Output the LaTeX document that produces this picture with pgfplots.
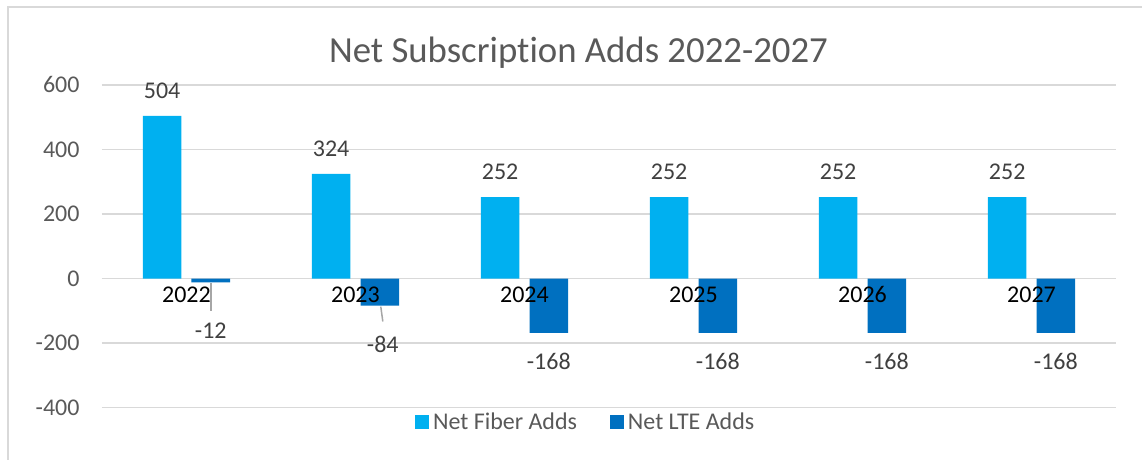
\documentclass[border=0pt]{standalone}
\usepackage{pgfplots}
\pgfplotsset{compat=1.18}
\usepackage{fontspec}
\setmainfont{Carlito}[Ligatures=NoCommon]
\definecolor{fiber}{HTML}{00B0F0}
\definecolor{lte}{HTML}{0070C0}
\definecolor{gridc}{HTML}{D9D9D9}
\definecolor{txt}{HTML}{595959}
\definecolor{lbl}{HTML}{404040}
\definecolor{leader}{HTML}{A6A6A6}
\newcommand{\lf}{\fontsize{12bp}{14bp}\selectfont}
\begin{document}
\begin{tikzpicture}
\fill[white] (0,0) rectangle (571.5bp,230bp);
\draw[gridc, line width=1bp] (4bp,0) -- (4bp,226.5bp) -- (571.5bp,226.5bp);
\node[anchor=base, text=txt, font=\fontsize{18.4bp}{22bp}\selectfont, inner sep=0] at (289.5bp,198.5bp) {Net Subscription Adds 2022-2027};
\begin{axis}[
  at={(51bp,26bp)}, anchor=south west, scale only axis,
  width=507.5bp, height=161.5bp,
  ybar, bar width=0.228,
  xmin=-0.5, xmax=5.5, ymin=-400, ymax=600,
  axis x line*=middle, axis y line*=left,
  x axis line style={gridc, line width=0.75bp, -},
  y axis line style={draw=none},
  xtick={0,1,2,3,4,5}, xticklabels={},
  ytick={-400,-200,0,200,400,600}, yticklabels={-400,-200,0,200,400,600},
  major tick length=0pt,
  ymajorgrids, grid style={gridc, line width=0.75bp},
  yticklabel style={anchor=east, xshift=-7.7bp, font=\lf, text=txt},
  /pgf/number format/assume math mode=true,
  clip=false,
  legend style={at={(0.478,-0.046)}, anchor=center, draw=none, fill=none,
    font=\lf, text=txt, legend columns=2,
    /tikz/every even column/.append style={column sep=14.5bp}},
  legend image code/.code={\fill[#1] (-2bp,-3.5bp) rectangle (5bp,3.5bp);},
]
\addplot[fill=fiber, draw=none, bar shift=-0.144,
  nodes near coords,
  nodes near coords style={anchor=center, yshift=12.5bp, text=lbl, font=\lf}]
  coordinates {(0,504) (1,324) (2,252) (3,252) (4,252) (5,252)};
\addlegendentry{Net Fiber Adds}
\addplot[fill=lte, draw=none, bar shift=0.144]
  coordinates {(0,-12) (1,-84) (2,-168) (3,-168) (4,-168) (5,-168)};
\addlegendentry{Net LTE Adds}
\draw[leader, line width=0.75bp] (axis cs:0.144,-14) -- (axis cs:0.144,-102);
\draw[leader, line width=0.75bp] (axis cs:1.15,-87) -- (axis cs:1.162,-133);
\node[text=lbl, font=\lf] at (axis cs:0.144,-161) {-12};
\node[text=lbl, font=\lf] at (axis cs:1.162,-204) {-84};
\node[text=lbl, font=\lf] at (axis cs:2.144,-257) {-168};
\node[text=lbl, font=\lf] at (axis cs:3.144,-257) {-168};
\node[text=lbl, font=\lf] at (axis cs:4.144,-257) {-168};
\node[text=lbl, font=\lf] at (axis cs:5.144,-257) {-168};
\node[text=black, font=\lf] at (axis cs:0,-49) {2022};
\node[text=black, font=\lf] at (axis cs:1,-49) {2023};
\node[text=black, font=\lf] at (axis cs:2,-49) {2024};
\node[text=black, font=\lf] at (axis cs:3,-49) {2025};
\node[text=black, font=\lf] at (axis cs:4,-49) {2026};
\node[text=black, font=\lf] at (axis cs:5,-49) {2027};
\end{axis}
\end{tikzpicture}
\end{document}
